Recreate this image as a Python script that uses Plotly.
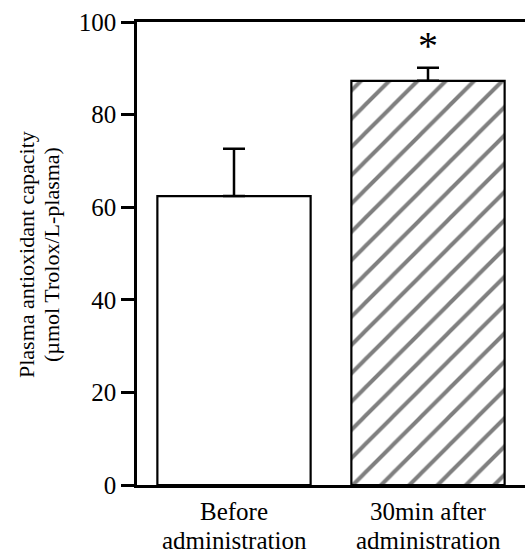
import plotly.graph_objects as go

categories = ["Before administration", "30min after administration"]
label_line1 = ["Before", "30min after"]
label_line2 = ["administration", "administration"]
values = [62.4, 87.3]
errors = [10.2, 2.8]
patterns = ["", "/"]
y_ticks = [0, 20, 40, 60, 80, 100]
y_title = ["Plasma antioxidant capacity", "(µmol Trolox/L-plasma)"]

FONT = "Liberation Serif"
L, R, T, B, W, H = 137, 0, 22, 70, 525, 555
PH = H - T - B
PW = W - L - R

def py(px):  # pixel row -> paper y
    return (H - B - px) / PH

def px_(px):  # pixel col -> paper x
    return (px - L) / PW

fig = go.Figure()
fig.add_trace(go.Bar(
    x=categories, y=values,
    width=0.79,
    marker=dict(
        color="white",
        line=dict(color="black", width=2.2),
        pattern=dict(shape=patterns, fgcolor="black", bgcolor="white", size=20, solidity=0.2, fillmode="overlay"),
    ),
    error_y=dict(type="data", array=errors, symmetric=False, arrayminus=[0, 0],
                 color="black", thickness=2.5, width=11),
    showlegend=False,
))

fig.add_annotation(x=categories[1], y=values[1] + errors[1], yref="y", xref="x",
                   text="*", showarrow=False, yshift=22,
                   font=dict(family=FONT, size=40, color="black"))

# category labels (two lines, tight spacing as in the reference)
for cat, l1, l2 in zip(categories, label_line1, label_line2):
    fig.add_annotation(x=cat, xref="x", yref="paper", y=py(511), yanchor="middle",
                       text=l1, showarrow=False, borderpad=0,
                       font=dict(family=FONT, size=25, color="black"))
    fig.add_annotation(x=cat, xref="x", yref="paper", y=py(540), yanchor="middle",
                       text=l2, showarrow=False, borderpad=0,
                       font=dict(family=FONT, size=25, color="black"))

# y-axis title (two lines)
for xpix, txt in zip([27, 52], y_title):
    fig.add_annotation(xref="paper", yref="paper", x=px_(xpix), y=py(255),
                       xanchor="center", yanchor="middle", textangle=-90,
                       text=txt, showarrow=False, borderpad=0,
                       font=dict(family=FONT, size=22, color="black"))

fig.update_layout(
    width=W, height=H,
    margin=dict(l=L, r=R, t=T, b=B),
    plot_bgcolor="white", paper_bgcolor="white",
    font=dict(family=FONT, size=25, color="black"),
)
fig.update_xaxes(range=[-0.5, 1.5], showline=True, linecolor="black", linewidth=2.5,
                 mirror=True, ticks="", showgrid=False, zeroline=False,
                 showticklabels=False)
fig.update_yaxes(range=[0, 100], tickvals=y_ticks, showline=True, linecolor="black",
                 linewidth=2.5, mirror=False, ticks="outside", ticklen=13, tickwidth=2.5,
                 tickcolor="black", showgrid=False, zeroline=False,
                 tickfont=dict(family=FONT, size=25))

fig.write_html("out.html",
               config={"displayModeBar": False, "responsive": False},
               post_script="document.body.style.margin='0';document.body.style.overflow='hidden';")
